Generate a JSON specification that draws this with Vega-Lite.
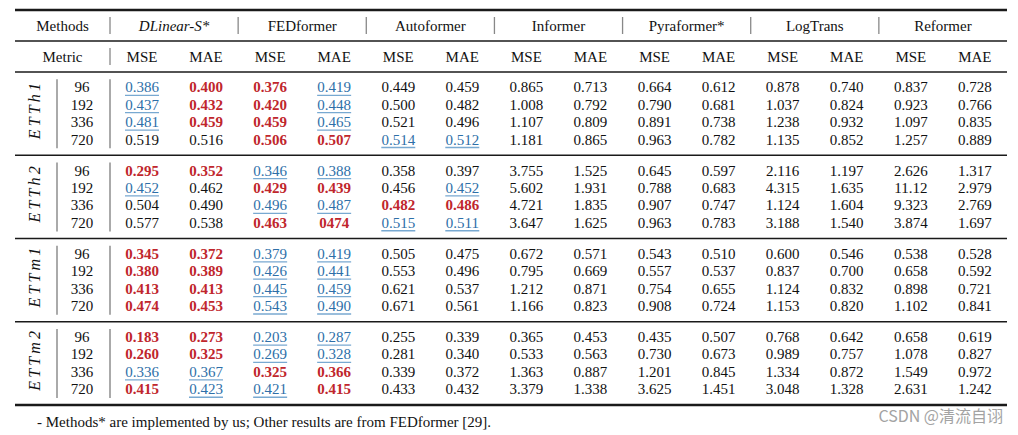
{
"$schema": "https://vega.github.io/schema/vega-lite/v6.json",
"width": 992, "height": 435,
"autosize": {"type": "none"},
"padding": {"left": 15, "top": 0, "right": 11, "bottom": 0},
"background": "white",
"config": {"view": {"stroke": null}, "text": {"font": "Liberation Serif", "fontSize": 15, "baseline": "middle", "align": "center"}},
"datasets": {
"cells": [
{"dataset":"ETTh1","horizon":96,"method":"DLinear-S*","metric":"MSE","value":"0.386","rank":"second"},
{"dataset":"ETTh1","horizon":96,"method":"DLinear-S*","metric":"MAE","value":"0.400","rank":"best"},
{"dataset":"ETTh1","horizon":96,"method":"FEDformer","metric":"MSE","value":"0.376","rank":"best"},
{"dataset":"ETTh1","horizon":96,"method":"FEDformer","metric":"MAE","value":"0.419","rank":"second"},
{"dataset":"ETTh1","horizon":96,"method":"Autoformer","metric":"MSE","value":"0.449"},
{"dataset":"ETTh1","horizon":96,"method":"Autoformer","metric":"MAE","value":"0.459"},
{"dataset":"ETTh1","horizon":96,"method":"Informer","metric":"MSE","value":"0.865"},
{"dataset":"ETTh1","horizon":96,"method":"Informer","metric":"MAE","value":"0.713"},
{"dataset":"ETTh1","horizon":96,"method":"Pyraformer*","metric":"MSE","value":"0.664"},
{"dataset":"ETTh1","horizon":96,"method":"Pyraformer*","metric":"MAE","value":"0.612"},
{"dataset":"ETTh1","horizon":96,"method":"LogTrans","metric":"MSE","value":"0.878"},
{"dataset":"ETTh1","horizon":96,"method":"LogTrans","metric":"MAE","value":"0.740"},
{"dataset":"ETTh1","horizon":96,"method":"Reformer","metric":"MSE","value":"0.837"},
{"dataset":"ETTh1","horizon":96,"method":"Reformer","metric":"MAE","value":"0.728"},
{"dataset":"ETTh1","horizon":192,"method":"DLinear-S*","metric":"MSE","value":"0.437","rank":"second"},
{"dataset":"ETTh1","horizon":192,"method":"DLinear-S*","metric":"MAE","value":"0.432","rank":"best"},
{"dataset":"ETTh1","horizon":192,"method":"FEDformer","metric":"MSE","value":"0.420","rank":"best"},
{"dataset":"ETTh1","horizon":192,"method":"FEDformer","metric":"MAE","value":"0.448","rank":"second"},
{"dataset":"ETTh1","horizon":192,"method":"Autoformer","metric":"MSE","value":"0.500"},
{"dataset":"ETTh1","horizon":192,"method":"Autoformer","metric":"MAE","value":"0.482"},
{"dataset":"ETTh1","horizon":192,"method":"Informer","metric":"MSE","value":"1.008"},
{"dataset":"ETTh1","horizon":192,"method":"Informer","metric":"MAE","value":"0.792"},
{"dataset":"ETTh1","horizon":192,"method":"Pyraformer*","metric":"MSE","value":"0.790"},
{"dataset":"ETTh1","horizon":192,"method":"Pyraformer*","metric":"MAE","value":"0.681"},
{"dataset":"ETTh1","horizon":192,"method":"LogTrans","metric":"MSE","value":"1.037"},
{"dataset":"ETTh1","horizon":192,"method":"LogTrans","metric":"MAE","value":"0.824"},
{"dataset":"ETTh1","horizon":192,"method":"Reformer","metric":"MSE","value":"0.923"},
{"dataset":"ETTh1","horizon":192,"method":"Reformer","metric":"MAE","value":"0.766"},
{"dataset":"ETTh1","horizon":336,"method":"DLinear-S*","metric":"MSE","value":"0.481","rank":"second"},
{"dataset":"ETTh1","horizon":336,"method":"DLinear-S*","metric":"MAE","value":"0.459","rank":"best"},
{"dataset":"ETTh1","horizon":336,"method":"FEDformer","metric":"MSE","value":"0.459","rank":"best"},
{"dataset":"ETTh1","horizon":336,"method":"FEDformer","metric":"MAE","value":"0.465","rank":"second"},
{"dataset":"ETTh1","horizon":336,"method":"Autoformer","metric":"MSE","value":"0.521"},
{"dataset":"ETTh1","horizon":336,"method":"Autoformer","metric":"MAE","value":"0.496"},
{"dataset":"ETTh1","horizon":336,"method":"Informer","metric":"MSE","value":"1.107"},
{"dataset":"ETTh1","horizon":336,"method":"Informer","metric":"MAE","value":"0.809"},
{"dataset":"ETTh1","horizon":336,"method":"Pyraformer*","metric":"MSE","value":"0.891"},
{"dataset":"ETTh1","horizon":336,"method":"Pyraformer*","metric":"MAE","value":"0.738"},
{"dataset":"ETTh1","horizon":336,"method":"LogTrans","metric":"MSE","value":"1.238"},
{"dataset":"ETTh1","horizon":336,"method":"LogTrans","metric":"MAE","value":"0.932"},
{"dataset":"ETTh1","horizon":336,"method":"Reformer","metric":"MSE","value":"1.097"},
{"dataset":"ETTh1","horizon":336,"method":"Reformer","metric":"MAE","value":"0.835"},
{"dataset":"ETTh1","horizon":720,"method":"DLinear-S*","metric":"MSE","value":"0.519"},
{"dataset":"ETTh1","horizon":720,"method":"DLinear-S*","metric":"MAE","value":"0.516"},
{"dataset":"ETTh1","horizon":720,"method":"FEDformer","metric":"MSE","value":"0.506","rank":"best"},
{"dataset":"ETTh1","horizon":720,"method":"FEDformer","metric":"MAE","value":"0.507","rank":"best"},
{"dataset":"ETTh1","horizon":720,"method":"Autoformer","metric":"MSE","value":"0.514","rank":"second"},
{"dataset":"ETTh1","horizon":720,"method":"Autoformer","metric":"MAE","value":"0.512","rank":"second"},
{"dataset":"ETTh1","horizon":720,"method":"Informer","metric":"MSE","value":"1.181"},
{"dataset":"ETTh1","horizon":720,"method":"Informer","metric":"MAE","value":"0.865"},
{"dataset":"ETTh1","horizon":720,"method":"Pyraformer*","metric":"MSE","value":"0.963"},
{"dataset":"ETTh1","horizon":720,"method":"Pyraformer*","metric":"MAE","value":"0.782"},
{"dataset":"ETTh1","horizon":720,"method":"LogTrans","metric":"MSE","value":"1.135"},
{"dataset":"ETTh1","horizon":720,"method":"LogTrans","metric":"MAE","value":"0.852"},
{"dataset":"ETTh1","horizon":720,"method":"Reformer","metric":"MSE","value":"1.257"},
{"dataset":"ETTh1","horizon":720,"method":"Reformer","metric":"MAE","value":"0.889"},
{"dataset":"ETTh2","horizon":96,"method":"DLinear-S*","metric":"MSE","value":"0.295","rank":"best"},
{"dataset":"ETTh2","horizon":96,"method":"DLinear-S*","metric":"MAE","value":"0.352","rank":"best"},
{"dataset":"ETTh2","horizon":96,"method":"FEDformer","metric":"MSE","value":"0.346","rank":"second"},
{"dataset":"ETTh2","horizon":96,"method":"FEDformer","metric":"MAE","value":"0.388","rank":"second"},
{"dataset":"ETTh2","horizon":96,"method":"Autoformer","metric":"MSE","value":"0.358"},
{"dataset":"ETTh2","horizon":96,"method":"Autoformer","metric":"MAE","value":"0.397"},
{"dataset":"ETTh2","horizon":96,"method":"Informer","metric":"MSE","value":"3.755"},
{"dataset":"ETTh2","horizon":96,"method":"Informer","metric":"MAE","value":"1.525"},
{"dataset":"ETTh2","horizon":96,"method":"Pyraformer*","metric":"MSE","value":"0.645"},
{"dataset":"ETTh2","horizon":96,"method":"Pyraformer*","metric":"MAE","value":"0.597"},
{"dataset":"ETTh2","horizon":96,"method":"LogTrans","metric":"MSE","value":"2.116"},
{"dataset":"ETTh2","horizon":96,"method":"LogTrans","metric":"MAE","value":"1.197"},
{"dataset":"ETTh2","horizon":96,"method":"Reformer","metric":"MSE","value":"2.626"},
{"dataset":"ETTh2","horizon":96,"method":"Reformer","metric":"MAE","value":"1.317"},
{"dataset":"ETTh2","horizon":192,"method":"DLinear-S*","metric":"MSE","value":"0.452","rank":"second"},
{"dataset":"ETTh2","horizon":192,"method":"DLinear-S*","metric":"MAE","value":"0.462"},
{"dataset":"ETTh2","horizon":192,"method":"FEDformer","metric":"MSE","value":"0.429","rank":"best"},
{"dataset":"ETTh2","horizon":192,"method":"FEDformer","metric":"MAE","value":"0.439","rank":"best"},
{"dataset":"ETTh2","horizon":192,"method":"Autoformer","metric":"MSE","value":"0.456"},
{"dataset":"ETTh2","horizon":192,"method":"Autoformer","metric":"MAE","value":"0.452","rank":"second"},
{"dataset":"ETTh2","horizon":192,"method":"Informer","metric":"MSE","value":"5.602"},
{"dataset":"ETTh2","horizon":192,"method":"Informer","metric":"MAE","value":"1.931"},
{"dataset":"ETTh2","horizon":192,"method":"Pyraformer*","metric":"MSE","value":"0.788"},
{"dataset":"ETTh2","horizon":192,"method":"Pyraformer*","metric":"MAE","value":"0.683"},
{"dataset":"ETTh2","horizon":192,"method":"LogTrans","metric":"MSE","value":"4.315"},
{"dataset":"ETTh2","horizon":192,"method":"LogTrans","metric":"MAE","value":"1.635"},
{"dataset":"ETTh2","horizon":192,"method":"Reformer","metric":"MSE","value":"11.12"},
{"dataset":"ETTh2","horizon":192,"method":"Reformer","metric":"MAE","value":"2.979"},
{"dataset":"ETTh2","horizon":336,"method":"DLinear-S*","metric":"MSE","value":"0.504"},
{"dataset":"ETTh2","horizon":336,"method":"DLinear-S*","metric":"MAE","value":"0.490"},
{"dataset":"ETTh2","horizon":336,"method":"FEDformer","metric":"MSE","value":"0.496","rank":"second"},
{"dataset":"ETTh2","horizon":336,"method":"FEDformer","metric":"MAE","value":"0.487","rank":"second"},
{"dataset":"ETTh2","horizon":336,"method":"Autoformer","metric":"MSE","value":"0.482","rank":"best"},
{"dataset":"ETTh2","horizon":336,"method":"Autoformer","metric":"MAE","value":"0.486","rank":"best"},
{"dataset":"ETTh2","horizon":336,"method":"Informer","metric":"MSE","value":"4.721"},
{"dataset":"ETTh2","horizon":336,"method":"Informer","metric":"MAE","value":"1.835"},
{"dataset":"ETTh2","horizon":336,"method":"Pyraformer*","metric":"MSE","value":"0.907"},
{"dataset":"ETTh2","horizon":336,"method":"Pyraformer*","metric":"MAE","value":"0.747"},
{"dataset":"ETTh2","horizon":336,"method":"LogTrans","metric":"MSE","value":"1.124"},
{"dataset":"ETTh2","horizon":336,"method":"LogTrans","metric":"MAE","value":"1.604"},
{"dataset":"ETTh2","horizon":336,"method":"Reformer","metric":"MSE","value":"9.323"},
{"dataset":"ETTh2","horizon":336,"method":"Reformer","metric":"MAE","value":"2.769"},
{"dataset":"ETTh2","horizon":720,"method":"DLinear-S*","metric":"MSE","value":"0.577"},
{"dataset":"ETTh2","horizon":720,"method":"DLinear-S*","metric":"MAE","value":"0.538"},
{"dataset":"ETTh2","horizon":720,"method":"FEDformer","metric":"MSE","value":"0.463","rank":"best"},
{"dataset":"ETTh2","horizon":720,"method":"FEDformer","metric":"MAE","value":"0474","rank":"best"},
{"dataset":"ETTh2","horizon":720,"method":"Autoformer","metric":"MSE","value":"0.515","rank":"second"},
{"dataset":"ETTh2","horizon":720,"method":"Autoformer","metric":"MAE","value":"0.511","rank":"second"},
{"dataset":"ETTh2","horizon":720,"method":"Informer","metric":"MSE","value":"3.647"},
{"dataset":"ETTh2","horizon":720,"method":"Informer","metric":"MAE","value":"1.625"},
{"dataset":"ETTh2","horizon":720,"method":"Pyraformer*","metric":"MSE","value":"0.963"},
{"dataset":"ETTh2","horizon":720,"method":"Pyraformer*","metric":"MAE","value":"0.783"},
{"dataset":"ETTh2","horizon":720,"method":"LogTrans","metric":"MSE","value":"3.188"},
{"dataset":"ETTh2","horizon":720,"method":"LogTrans","metric":"MAE","value":"1.540"},
{"dataset":"ETTh2","horizon":720,"method":"Reformer","metric":"MSE","value":"3.874"},
{"dataset":"ETTh2","horizon":720,"method":"Reformer","metric":"MAE","value":"1.697"},
{"dataset":"ETTm1","horizon":96,"method":"DLinear-S*","metric":"MSE","value":"0.345","rank":"best"},
{"dataset":"ETTm1","horizon":96,"method":"DLinear-S*","metric":"MAE","value":"0.372","rank":"best"},
{"dataset":"ETTm1","horizon":96,"method":"FEDformer","metric":"MSE","value":"0.379","rank":"second"},
{"dataset":"ETTm1","horizon":96,"method":"FEDformer","metric":"MAE","value":"0.419","rank":"second"},
{"dataset":"ETTm1","horizon":96,"method":"Autoformer","metric":"MSE","value":"0.505"},
{"dataset":"ETTm1","horizon":96,"method":"Autoformer","metric":"MAE","value":"0.475"},
{"dataset":"ETTm1","horizon":96,"method":"Informer","metric":"MSE","value":"0.672"},
{"dataset":"ETTm1","horizon":96,"method":"Informer","metric":"MAE","value":"0.571"},
{"dataset":"ETTm1","horizon":96,"method":"Pyraformer*","metric":"MSE","value":"0.543"},
{"dataset":"ETTm1","horizon":96,"method":"Pyraformer*","metric":"MAE","value":"0.510"},
{"dataset":"ETTm1","horizon":96,"method":"LogTrans","metric":"MSE","value":"0.600"},
{"dataset":"ETTm1","horizon":96,"method":"LogTrans","metric":"MAE","value":"0.546"},
{"dataset":"ETTm1","horizon":96,"method":"Reformer","metric":"MSE","value":"0.538"},
{"dataset":"ETTm1","horizon":96,"method":"Reformer","metric":"MAE","value":"0.528"},
{"dataset":"ETTm1","horizon":192,"method":"DLinear-S*","metric":"MSE","value":"0.380","rank":"best"},
{"dataset":"ETTm1","horizon":192,"method":"DLinear-S*","metric":"MAE","value":"0.389","rank":"best"},
{"dataset":"ETTm1","horizon":192,"method":"FEDformer","metric":"MSE","value":"0.426","rank":"second"},
{"dataset":"ETTm1","horizon":192,"method":"FEDformer","metric":"MAE","value":"0.441","rank":"second"},
{"dataset":"ETTm1","horizon":192,"method":"Autoformer","metric":"MSE","value":"0.553"},
{"dataset":"ETTm1","horizon":192,"method":"Autoformer","metric":"MAE","value":"0.496"},
{"dataset":"ETTm1","horizon":192,"method":"Informer","metric":"MSE","value":"0.795"},
{"dataset":"ETTm1","horizon":192,"method":"Informer","metric":"MAE","value":"0.669"},
{"dataset":"ETTm1","horizon":192,"method":"Pyraformer*","metric":"MSE","value":"0.557"},
{"dataset":"ETTm1","horizon":192,"method":"Pyraformer*","metric":"MAE","value":"0.537"},
{"dataset":"ETTm1","horizon":192,"method":"LogTrans","metric":"MSE","value":"0.837"},
{"dataset":"ETTm1","horizon":192,"method":"LogTrans","metric":"MAE","value":"0.700"},
{"dataset":"ETTm1","horizon":192,"method":"Reformer","metric":"MSE","value":"0.658"},
{"dataset":"ETTm1","horizon":192,"method":"Reformer","metric":"MAE","value":"0.592"},
{"dataset":"ETTm1","horizon":336,"method":"DLinear-S*","metric":"MSE","value":"0.413","rank":"best"},
{"dataset":"ETTm1","horizon":336,"method":"DLinear-S*","metric":"MAE","value":"0.413","rank":"best"},
{"dataset":"ETTm1","horizon":336,"method":"FEDformer","metric":"MSE","value":"0.445","rank":"second"},
{"dataset":"ETTm1","horizon":336,"method":"FEDformer","metric":"MAE","value":"0.459","rank":"second"},
{"dataset":"ETTm1","horizon":336,"method":"Autoformer","metric":"MSE","value":"0.621"},
{"dataset":"ETTm1","horizon":336,"method":"Autoformer","metric":"MAE","value":"0.537"},
{"dataset":"ETTm1","horizon":336,"method":"Informer","metric":"MSE","value":"1.212"},
{"dataset":"ETTm1","horizon":336,"method":"Informer","metric":"MAE","value":"0.871"},
{"dataset":"ETTm1","horizon":336,"method":"Pyraformer*","metric":"MSE","value":"0.754"},
{"dataset":"ETTm1","horizon":336,"method":"Pyraformer*","metric":"MAE","value":"0.655"},
{"dataset":"ETTm1","horizon":336,"method":"LogTrans","metric":"MSE","value":"1.124"},
{"dataset":"ETTm1","horizon":336,"method":"LogTrans","metric":"MAE","value":"0.832"},
{"dataset":"ETTm1","horizon":336,"method":"Reformer","metric":"MSE","value":"0.898"},
{"dataset":"ETTm1","horizon":336,"method":"Reformer","metric":"MAE","value":"0.721"},
{"dataset":"ETTm1","horizon":720,"method":"DLinear-S*","metric":"MSE","value":"0.474","rank":"best"},
{"dataset":"ETTm1","horizon":720,"method":"DLinear-S*","metric":"MAE","value":"0.453","rank":"best"},
{"dataset":"ETTm1","horizon":720,"method":"FEDformer","metric":"MSE","value":"0.543","rank":"second"},
{"dataset":"ETTm1","horizon":720,"method":"FEDformer","metric":"MAE","value":"0.490","rank":"second"},
{"dataset":"ETTm1","horizon":720,"method":"Autoformer","metric":"MSE","value":"0.671"},
{"dataset":"ETTm1","horizon":720,"method":"Autoformer","metric":"MAE","value":"0.561"},
{"dataset":"ETTm1","horizon":720,"method":"Informer","metric":"MSE","value":"1.166"},
{"dataset":"ETTm1","horizon":720,"method":"Informer","metric":"MAE","value":"0.823"},
{"dataset":"ETTm1","horizon":720,"method":"Pyraformer*","metric":"MSE","value":"0.908"},
{"dataset":"ETTm1","horizon":720,"method":"Pyraformer*","metric":"MAE","value":"0.724"},
{"dataset":"ETTm1","horizon":720,"method":"LogTrans","metric":"MSE","value":"1.153"},
{"dataset":"ETTm1","horizon":720,"method":"LogTrans","metric":"MAE","value":"0.820"},
{"dataset":"ETTm1","horizon":720,"method":"Reformer","metric":"MSE","value":"1.102"},
{"dataset":"ETTm1","horizon":720,"method":"Reformer","metric":"MAE","value":"0.841"},
{"dataset":"ETTm2","horizon":96,"method":"DLinear-S*","metric":"MSE","value":"0.183","rank":"best"},
{"dataset":"ETTm2","horizon":96,"method":"DLinear-S*","metric":"MAE","value":"0.273","rank":"best"},
{"dataset":"ETTm2","horizon":96,"method":"FEDformer","metric":"MSE","value":"0.203","rank":"second"},
{"dataset":"ETTm2","horizon":96,"method":"FEDformer","metric":"MAE","value":"0.287","rank":"second"},
{"dataset":"ETTm2","horizon":96,"method":"Autoformer","metric":"MSE","value":"0.255"},
{"dataset":"ETTm2","horizon":96,"method":"Autoformer","metric":"MAE","value":"0.339"},
{"dataset":"ETTm2","horizon":96,"method":"Informer","metric":"MSE","value":"0.365"},
{"dataset":"ETTm2","horizon":96,"method":"Informer","metric":"MAE","value":"0.453"},
{"dataset":"ETTm2","horizon":96,"method":"Pyraformer*","metric":"MSE","value":"0.435"},
{"dataset":"ETTm2","horizon":96,"method":"Pyraformer*","metric":"MAE","value":"0.507"},
{"dataset":"ETTm2","horizon":96,"method":"LogTrans","metric":"MSE","value":"0.768"},
{"dataset":"ETTm2","horizon":96,"method":"LogTrans","metric":"MAE","value":"0.642"},
{"dataset":"ETTm2","horizon":96,"method":"Reformer","metric":"MSE","value":"0.658"},
{"dataset":"ETTm2","horizon":96,"method":"Reformer","metric":"MAE","value":"0.619"},
{"dataset":"ETTm2","horizon":192,"method":"DLinear-S*","metric":"MSE","value":"0.260","rank":"best"},
{"dataset":"ETTm2","horizon":192,"method":"DLinear-S*","metric":"MAE","value":"0.325","rank":"best"},
{"dataset":"ETTm2","horizon":192,"method":"FEDformer","metric":"MSE","value":"0.269","rank":"second"},
{"dataset":"ETTm2","horizon":192,"method":"FEDformer","metric":"MAE","value":"0.328","rank":"second"},
{"dataset":"ETTm2","horizon":192,"method":"Autoformer","metric":"MSE","value":"0.281"},
{"dataset":"ETTm2","horizon":192,"method":"Autoformer","metric":"MAE","value":"0.340"},
{"dataset":"ETTm2","horizon":192,"method":"Informer","metric":"MSE","value":"0.533"},
{"dataset":"ETTm2","horizon":192,"method":"Informer","metric":"MAE","value":"0.563"},
{"dataset":"ETTm2","horizon":192,"method":"Pyraformer*","metric":"MSE","value":"0.730"},
{"dataset":"ETTm2","horizon":192,"method":"Pyraformer*","metric":"MAE","value":"0.673"},
{"dataset":"ETTm2","horizon":192,"method":"LogTrans","metric":"MSE","value":"0.989"},
{"dataset":"ETTm2","horizon":192,"method":"LogTrans","metric":"MAE","value":"0.757"},
{"dataset":"ETTm2","horizon":192,"method":"Reformer","metric":"MSE","value":"1.078"},
{"dataset":"ETTm2","horizon":192,"method":"Reformer","metric":"MAE","value":"0.827"},
{"dataset":"ETTm2","horizon":336,"method":"DLinear-S*","metric":"MSE","value":"0.336","rank":"second"},
{"dataset":"ETTm2","horizon":336,"method":"DLinear-S*","metric":"MAE","value":"0.367","rank":"second"},
{"dataset":"ETTm2","horizon":336,"method":"FEDformer","metric":"MSE","value":"0.325","rank":"best"},
{"dataset":"ETTm2","horizon":336,"method":"FEDformer","metric":"MAE","value":"0.366","rank":"best"},
{"dataset":"ETTm2","horizon":336,"method":"Autoformer","metric":"MSE","value":"0.339"},
{"dataset":"ETTm2","horizon":336,"method":"Autoformer","metric":"MAE","value":"0.372"},
{"dataset":"ETTm2","horizon":336,"method":"Informer","metric":"MSE","value":"1.363"},
{"dataset":"ETTm2","horizon":336,"method":"Informer","metric":"MAE","value":"0.887"},
{"dataset":"ETTm2","horizon":336,"method":"Pyraformer*","metric":"MSE","value":"1.201"},
{"dataset":"ETTm2","horizon":336,"method":"Pyraformer*","metric":"MAE","value":"0.845"},
{"dataset":"ETTm2","horizon":336,"method":"LogTrans","metric":"MSE","value":"1.334"},
{"dataset":"ETTm2","horizon":336,"method":"LogTrans","metric":"MAE","value":"0.872"},
{"dataset":"ETTm2","horizon":336,"method":"Reformer","metric":"MSE","value":"1.549"},
{"dataset":"ETTm2","horizon":336,"method":"Reformer","metric":"MAE","value":"0.972"},
{"dataset":"ETTm2","horizon":720,"method":"DLinear-S*","metric":"MSE","value":"0.415","rank":"best"},
{"dataset":"ETTm2","horizon":720,"method":"DLinear-S*","metric":"MAE","value":"0.423","rank":"second"},
{"dataset":"ETTm2","horizon":720,"method":"FEDformer","metric":"MSE","value":"0.421","rank":"second"},
{"dataset":"ETTm2","horizon":720,"method":"FEDformer","metric":"MAE","value":"0.415","rank":"best"},
{"dataset":"ETTm2","horizon":720,"method":"Autoformer","metric":"MSE","value":"0.433"},
{"dataset":"ETTm2","horizon":720,"method":"Autoformer","metric":"MAE","value":"0.432"},
{"dataset":"ETTm2","horizon":720,"method":"Informer","metric":"MSE","value":"3.379"},
{"dataset":"ETTm2","horizon":720,"method":"Informer","metric":"MAE","value":"1.338"},
{"dataset":"ETTm2","horizon":720,"method":"Pyraformer*","metric":"MSE","value":"3.625"},
{"dataset":"ETTm2","horizon":720,"method":"Pyraformer*","metric":"MAE","value":"1.451"},
{"dataset":"ETTm2","horizon":720,"method":"LogTrans","metric":"MSE","value":"3.048"},
{"dataset":"ETTm2","horizon":720,"method":"LogTrans","metric":"MAE","value":"1.328"},
{"dataset":"ETTm2","horizon":720,"method":"Reformer","metric":"MSE","value":"2.631"},
{"dataset":"ETTm2","horizon":720,"method":"Reformer","metric":"MAE","value":"1.242"}
],
"methods": [
{"row":"Methods","method":"DLinear-S*"},
{"row":"Methods","method":"FEDformer"},
{"row":"Methods","method":"Autoformer"},
{"row":"Methods","method":"Informer"},
{"row":"Methods","method":"Pyraformer*"},
{"row":"Methods","method":"LogTrans"},
{"row":"Methods","method":"Reformer"}
],
"metrics": [
{"row":"Metric","method":"DLinear-S*","metric":"MSE"},{"row":"Metric","method":"DLinear-S*","metric":"MAE"},
{"row":"Metric","method":"FEDformer","metric":"MSE"},{"row":"Metric","method":"FEDformer","metric":"MAE"},
{"row":"Metric","method":"Autoformer","metric":"MSE"},{"row":"Metric","method":"Autoformer","metric":"MAE"},
{"row":"Metric","method":"Informer","metric":"MSE"},{"row":"Metric","method":"Informer","metric":"MAE"},
{"row":"Metric","method":"Pyraformer*","metric":"MSE"},{"row":"Metric","method":"Pyraformer*","metric":"MAE"},
{"row":"Metric","method":"LogTrans","metric":"MSE"},{"row":"Metric","method":"LogTrans","metric":"MAE"},
{"row":"Metric","method":"Reformer","metric":"MSE"},{"row":"Metric","method":"Reformer","metric":"MAE"}
],
"groups": [
{"dataset":"ETTh1","label":"E\u2009T\u2009T\u2009h\u20091"},
{"dataset":"ETTh2","label":"E\u2009T\u2009T\u2009h\u20092"},
{"dataset":"ETTm1","label":"E\u2009T\u2009T\u2009m\u20091"},
{"dataset":"ETTm2","label":"E\u2009T\u2009T\u2009m\u20092"}
]
},
"data": {"name": "cells"},
"resolve": {"scale": {"x": "independent", "y": "independent", "xOffset": "independent", "yOffset": "independent"}},
"layer": [
{"data": {"values": [{"line":"top"},{"line":"bottom"}]},
 "mark": {"type":"rule","strokeWidth":2.3,"color":"#1a1a1a"},
 "encoding": {"y": {"field":"line","type":"nominal","axis":null,"scale":{"type":"point","domain":["top","bottom"],"range":[10,405],"padding":0}}}},
{"data": {"values": [{"row":"rule1"},{"row":"rule2"}]},
 "mark": {"type":"rule","strokeWidth":1.4,"color":"#1a1a1a"},
 "encoding": {"y": {"field":"row","type":"nominal","axis":null,"scale":{"type":"point","domain":["topRule","Methods","rule1","Metric","rule2"],"range":[10,72],"padding":0}}}},
{"data": {"values": [{"dataset":"ETTh2"},{"dataset":"ETTm1"},{"dataset":"ETTm2"}]},
 "mark": {"type":"rule","strokeWidth":1.4,"color":"#1a1a1a"},
 "encoding": {"y": {"field":"dataset","type":"nominal","axis":null,"bandPosition":0,"scale":{"type":"band","domain":["ETTh1","ETTh2","ETTm1","ETTm2"],"range":[72,405],"paddingInner":0,"paddingOuter":0}}}},
{"data": {"values": [
 {"row":"Methods","method":"DLinear-S*"},{"row":"Methods","method":"FEDformer"},{"row":"Methods","method":"Autoformer"},
 {"row":"Methods","method":"Informer"},{"row":"Methods","method":"Pyraformer*"},{"row":"Methods","method":"LogTrans"},
 {"row":"Methods","method":"Reformer"},{"row":"Metric","method":"DLinear-S*"}]},
 "mark": {"type":"tick","orient":"vertical","size":17,"thickness":1.3,"color":"#555555"},
 "encoding": {
  "x": {"field":"method","type":"nominal","axis":null,"bandPosition":0,"scale":{"type":"band","domain":["DLinear-S*","FEDformer","Autoformer","Informer","Pyraformer*","LogTrans","Reformer"],"range":[95,992],"paddingInner":0,"paddingOuter":0}},
  "y": {"field":"row","type":"nominal","axis":null,"scale":{"type":"point","domain":["topRule","Methods","rule1","Metric","rule2"],"range":[10,72],"padding":0}}}},
{"data": {"values": [
 {"dataset":"ETTh1","kind":"inner"},{"dataset":"ETTh1","kind":"outer"},
 {"dataset":"ETTh2","kind":"inner"},{"dataset":"ETTh2","kind":"outer"},
 {"dataset":"ETTm1","kind":"inner"},{"dataset":"ETTm1","kind":"outer"},
 {"dataset":"ETTm2","kind":"inner"},{"dataset":"ETTm2","kind":"outer"}]},
 "mark": {"type":"tick","orient":"vertical","size":69,"thickness":1.3,"color":"#444444"},
 "encoding": {
  "x": {"field":"kind","type":"nominal","axis":null,"scale":{"type":"point","domain":["inner","outer"],"range":[42,95],"padding":0}},
  "y": {"field":"dataset","type":"nominal","axis":null,"scale":{"type":"band","domain":["ETTh1","ETTh2","ETTm1","ETTm2"],"range":[72,405],"paddingInner":0,"paddingOuter":0}}}},
{"data": {"values": [{"row":"Methods","label":"Methods","block":"left"},{"row":"Metric","label":"Metric","block":"left"}]},
 "mark": {"type":"text","color":"#111111"},
 "encoding": {
  "x": {"field":"block","type":"nominal","axis":null,"scale":{"type":"point","domain":["left"],"range":[0,95],"padding":0.5}},
  "y": {"field":"row","type":"nominal","axis":null,"scale":{"type":"point","domain":["topRule","Methods","rule1","Metric","rule2"],"range":[10,72],"padding":0}},
  "text": {"field":"label"}}},
{"data": {"name":"methods"},
 "transform": [{"filter":"datum.method !== 'DLinear-S*'"}],
 "mark": {"type":"text","color":"#111111"},
 "encoding": {
  "x": {"field":"method","type":"nominal","axis":null,"scale":{"type":"band","domain":["DLinear-S*","FEDformer","Autoformer","Informer","Pyraformer*","LogTrans","Reformer"],"range":[95,992],"paddingInner":0,"paddingOuter":0}},
  "y": {"field":"row","type":"nominal","axis":null,"scale":{"type":"point","domain":["topRule","Methods","rule1","Metric","rule2"],"range":[10,72],"padding":0}},
  "text": {"field":"method"}}},
{"data": {"name":"methods"},
 "transform": [{"filter":"datum.method === 'DLinear-S*'"}],
 "mark": {"type":"text","color":"#111111","fontStyle":"italic"},
 "encoding": {
  "x": {"field":"method","type":"nominal","axis":null,"scale":{"type":"band","domain":["DLinear-S*","FEDformer","Autoformer","Informer","Pyraformer*","LogTrans","Reformer"],"range":[95,992],"paddingInner":0,"paddingOuter":0}},
  "y": {"field":"row","type":"nominal","axis":null,"scale":{"type":"point","domain":["topRule","Methods","rule1","Metric","rule2"],"range":[10,72],"padding":0}},
  "text": {"field":"method"}}},
{"data": {"name":"metrics"},
 "mark": {"type":"text","color":"#111111"},
 "encoding": {
  "x": {"field":"method","type":"nominal","axis":null,"scale":{"type":"band","domain":["DLinear-S*","FEDformer","Autoformer","Informer","Pyraformer*","LogTrans","Reformer"],"range":[95,992],"paddingInner":0,"paddingOuter":0}},
  "xOffset": {"field":"metric","type":"nominal","scale":{"type":"point","domain":["MSE","MAE"],"range":[32,96],"padding":0}},
  "y": {"field":"row","type":"nominal","axis":null,"scale":{"type":"point","domain":["topRule","Methods","rule1","Metric","rule2"],"range":[10,72],"padding":0}},
  "text": {"field":"metric"}}},
{"data": {"name":"groups"},
 "mark": {"type":"text","color":"#111111","fontStyle":"italic","angle":270,"fontSize":16},
 "encoding": {
  "x": {"datum":"dataset","type":"nominal","axis":null,"scale":{"type":"point","domain":["dataset","horizon"],"range":[20,67],"padding":0}},
  "y": {"field":"dataset","type":"nominal","axis":null,"bandPosition":0.47,"scale":{"type":"band","domain":["ETTh1","ETTh2","ETTm1","ETTm2"],"range":[72,405],"paddingInner":0,"paddingOuter":0}},
  "text": {"field":"label"}}},
{"transform": [{"filter":"datum.method === 'DLinear-S*' && datum.metric === 'MSE'"}],
 "mark": {"type":"text","color":"#111111"},
 "encoding": {
  "x": {"datum":"horizon","type":"nominal","axis":null,"scale":{"type":"point","domain":["dataset","horizon"],"range":[20,67],"padding":0}},
  "y": {"field":"dataset","type":"nominal","axis":null,"scale":{"type":"band","domain":["ETTh1","ETTh2","ETTm1","ETTm2"],"range":[72,405],"paddingInner":0,"paddingOuter":0}},
  "yOffset": {"field":"horizon","type":"nominal","scale":{"type":"point","domain":[96,192,336,720],"range":[15.3,67.5],"padding":0}},
  "text": {"field":"horizon"}}},
{"transform": [{"filter":"!datum.rank"}],
 "mark": {"type":"text","color":"#111111"},
 "encoding": {
  "x": {"field":"method","type":"nominal","axis":null,"scale":{"type":"band","domain":["DLinear-S*","FEDformer","Autoformer","Informer","Pyraformer*","LogTrans","Reformer"],"range":[95,992],"paddingInner":0,"paddingOuter":0}},
  "xOffset": {"field":"metric","type":"nominal","scale":{"type":"point","domain":["MSE","MAE"],"range":[32,96],"padding":0}},
  "y": {"field":"dataset","type":"nominal","axis":null,"scale":{"type":"band","domain":["ETTh1","ETTh2","ETTm1","ETTm2"],"range":[72,405],"paddingInner":0,"paddingOuter":0}},
  "yOffset": {"field":"horizon","type":"nominal","scale":{"type":"point","domain":[96,192,336,720],"range":[15.3,67.5],"padding":0}},
  "text": {"field":"value"}}},
{"transform": [{"filter":"datum.rank === 'second'"}],
 "mark": {"type":"text","color":"#2e6fa8"},
 "encoding": {
  "x": {"field":"method","type":"nominal","axis":null,"scale":{"type":"band","domain":["DLinear-S*","FEDformer","Autoformer","Informer","Pyraformer*","LogTrans","Reformer"],"range":[95,992],"paddingInner":0,"paddingOuter":0}},
  "xOffset": {"field":"metric","type":"nominal","scale":{"type":"point","domain":["MSE","MAE"],"range":[32,96],"padding":0}},
  "y": {"field":"dataset","type":"nominal","axis":null,"scale":{"type":"band","domain":["ETTh1","ETTh2","ETTm1","ETTm2"],"range":[72,405],"paddingInner":0,"paddingOuter":0}},
  "yOffset": {"field":"horizon","type":"nominal","scale":{"type":"point","domain":[96,192,336,720],"range":[15.3,67.5],"padding":0}},
  "text": {"field":"value"}}},
{"transform": [{"filter":"datum.rank === 'second'"}],
 "mark": {"type":"tick","orient":"horizontal","size":34,"thickness":1.3,"color":"#3f85bd"},
 "encoding": {
  "x": {"field":"method","type":"nominal","axis":null,"scale":{"type":"band","domain":["DLinear-S*","FEDformer","Autoformer","Informer","Pyraformer*","LogTrans","Reformer"],"range":[95,992],"paddingInner":0,"paddingOuter":0}},
  "xOffset": {"field":"metric","type":"nominal","scale":{"type":"point","domain":["MSE","MAE"],"range":[32,96],"padding":0}},
  "y": {"field":"dataset","type":"nominal","axis":null,"scale":{"type":"band","domain":["ETTh1","ETTh2","ETTm1","ETTm2"],"range":[72,405],"paddingInner":0,"paddingOuter":0}},
  "yOffset": {"field":"horizon","type":"nominal","scale":{"type":"point","domain":[96,192,336,720],"range":[23.3,75.5],"padding":0}}}},
{"transform": [{"filter":"datum.rank === 'best'"}],
 "mark": {"type":"text","color":"#c0262c","fontWeight":"bold"},
 "encoding": {
  "x": {"field":"method","type":"nominal","axis":null,"scale":{"type":"band","domain":["DLinear-S*","FEDformer","Autoformer","Informer","Pyraformer*","LogTrans","Reformer"],"range":[95,992],"paddingInner":0,"paddingOuter":0}},
  "xOffset": {"field":"metric","type":"nominal","scale":{"type":"point","domain":["MSE","MAE"],"range":[32,96],"padding":0}},
  "y": {"field":"dataset","type":"nominal","axis":null,"scale":{"type":"band","domain":["ETTh1","ETTh2","ETTm1","ETTm2"],"range":[72,405],"paddingInner":0,"paddingOuter":0}},
  "yOffset": {"field":"horizon","type":"nominal","scale":{"type":"point","domain":[96,192,336,720],"range":[15.3,67.5],"padding":0}},
  "text": {"field":"value"}}},
{"data": {"values": [{"part":"footer","text":"- Methods* are implemented by us; Other results are from FEDformer [29]."}]},
 "mark": {"type":"text","color":"#111111","align":"left"},
 "encoding": {
  "x": {"field":"part","type":"nominal","axis":null,"scale":{"type":"point","domain":["footer"],"range":[22,22],"padding":0}},
  "y": {"field":"part","type":"nominal","axis":null,"scale":{"type":"point","domain":["footer"],"range":[421.5,421.5],"padding":0}},
  "text": {"field":"text"}}},
{"data": {"values": [{"part":"watermark","text":"CSDN @清流自诩"}]},
 "mark": {"type":"text","color":"#a3a3a3","align":"right","font":"Noto Sans CJK SC","fontSize":16},
 "encoding": {
  "x": {"field":"part","type":"nominal","axis":null,"scale":{"type":"point","domain":["watermark"],"range":[988,988],"padding":0}},
  "y": {"field":"part","type":"nominal","axis":null,"scale":{"type":"point","domain":["watermark"],"range":[417,417],"padding":0}},
  "text": {"field":"text"}}}
]
}
